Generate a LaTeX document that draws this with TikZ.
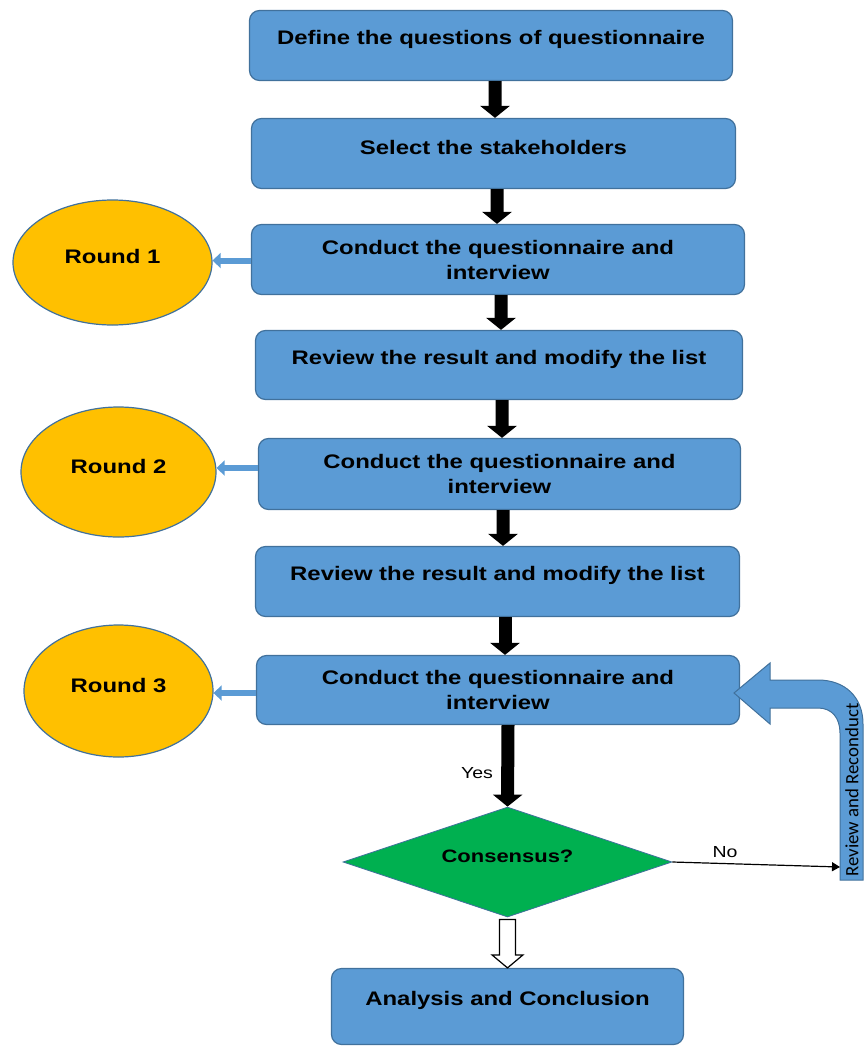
\documentclass[tikz,border=0pt]{standalone}
\usepackage{fontspec}
\setmainfont{Liberation Sans}[FakeStretch=1.22]
\newfontfamily\barfont{Carlito}
\usetikzlibrary{shapes.geometric,arrows.meta,calc}

\definecolor{boxblue}{RGB}{91,155,213}
\definecolor{edgeblue}{RGB}{65,113,156}
\definecolor{roundgold}{RGB}{255,192,0}
\definecolor{decgreen}{RGB}{0,176,80}

% single-line labels sit a little above the middle of their shape
\newcommand\lift[1]{\raisebox{6bp}[\height][\depth]{#1}}

\tikzset{
  stepbox/.style={draw=edgeblue, fill=boxblue, line width=1.2bp, rounded corners=10bp,
    inner sep=0pt, align=center, text=black,
    font=\fontsize{19.6bp}{25bp}\selectfont\bfseries},
  roundnode/.style={ellipse, draw=edgeblue, fill=roundgold, line width=1.2bp, inner sep=0pt,
    font=\fontsize{19.6bp}{25bp}\selectfont\bfseries},
  decision/.style={diamond, aspect=3, draw=edgeblue, fill=decgreen, line width=0.8bp, inner sep=0pt,
    font=\fontsize{18bp}{22bp}\selectfont\bfseries},
  flow/.style={line width=13bp, black, -{Triangle[width=29bp,length=12bp]}},
  toround/.style={line width=6bp, boxblue, -{Triangle[width=15bp,length=8bp]}},
  hollow/.style={draw=black, fill=white, line width=1.2bp, line join=miter},
  thin/.style={line width=1.2bp, black, -{Triangle[width=9bp,length=8bp]}},
  small/.style={font=\fontsize{16bp}{19bp}\selectfont},
}

\begin{document}
\begin{tikzpicture}[x=1bp, y=-1bp]
\useasboundingbox (0,0) rectangle (864,1048);

% main column of steps
\node[stepbox, minimum width=483bp, minimum height=70bp] (b1) at (491,45.5) {\lift{Define the questions of questionnaire}};
\node[stepbox, minimum width=484bp, minimum height=70bp] (b2) at (493.5,153.5) {\lift{Select the stakeholders}};
\node[stepbox, minimum width=493bp, minimum height=70bp] (b3) at (498,259.5) {Conduct the questionnaire and\\interview};
\node[stepbox, minimum width=487bp, minimum height=69bp] (b4) at (499,365) {\lift{Review the result and modify the list}};
\node[stepbox, minimum width=482bp, minimum height=71bp] (b5) at (499.5,474) {Conduct the questionnaire and\\interview};
\node[stepbox, minimum width=484bp, minimum height=70bp] (b6) at (497.5,581.5) {\lift{Review the result and modify the list}};
\node[stepbox, minimum width=483bp, minimum height=69bp] (b7) at (498,690) {Conduct the questionnaire and\\interview};
\node[decision, minimum width=329bp, minimum height=110bp] (dia) at (507.5,862) {\lift{Consensus?}};
\node[stepbox, minimum width=352bp, minimum height=76bp] (b8) at (507.5,1006.5) {\lift{Analysis and Conclusion}};

% rounds
\node[roundnode, minimum width=199bp, minimum height=125bp] (r1) at (112.5,262.5) {\lift{Round 1}};
\node[roundnode, minimum width=195bp, minimum height=130bp] (r2) at (118.5,472) {\lift{Round 2}};
\node[roundnode, minimum width=189bp, minimum height=132bp] (r3) at (118.5,691) {\lift{Round 3}};

% step arrows
\draw[flow] ([xshift=4bp]b1.south) -- ([xshift=1.5bp]b2.north);
\draw[flow] ([xshift=3.5bp]b2.south) -- ([xshift=-1bp]b3.north);
\draw[flow] ([xshift=3bp]b3.south) -- ([xshift=2bp]b4.north);
\draw[flow] ([xshift=3bp]b4.south) -- ([xshift=2.5bp]b5.north);
\draw[flow] ([xshift=3.5bp]b5.south) -- ([xshift=5.5bp]b6.north);
\draw[flow] ([xshift=7.5bp]b6.south) -- ([xshift=7bp]b7.north);
\draw[flow] ([xshift=10bp]b7.south) -- (dia.north);
\node[small] (yes) at (477,773) {Yes};

% links to the rounds
\draw[toround] ([yshift=2bp]r1.east -| b3.west) -- ([yshift=2bp]r1.east);
\draw[toround] ([yshift=4bp]r2.east -| b5.west) -- ([yshift=4bp]r2.east);
\draw[toround] ([yshift=-2bp]r3.east -| b7.west) -- ([yshift=-2bp]r3.east);

% hollow arrow down to the conclusion
\draw[hollow] ($(dia.south)+(-8,2)$) -- ($(b8.north)+(-8,-13)$) -- ($(b8.north)+(-15.5,-13)$)
  -- (b8.north) -- ($(b8.north)+(15.5,-13)$) -- ($(b8.north)+(8,-13)$) -- ($(dia.south)+(8,2)$) -- cycle;

% review and reconduct loop
\draw[draw=edgeblue, fill=boxblue, line width=1bp, line join=miter]
  (734,693) -- (770,663) -- (770,680) -- (818,680)
  .. controls (845,680) and (863,697) .. (863,724) -- (863,880) -- (840,880) -- (840,733)
  .. controls (840,718) and (832,708) .. (818,708) -- (770,708) -- (770,724) -- cycle;
\node[rotate=90, inner sep=0pt, font=\barfont\fontsize{18.8bp}{20bp}\selectfont] (rr) at (852,790) {Review and Reconduct};
\coordinate (noend) at (840,867);
\draw[thin] (dia.east) -- (noend);
\node[small] (no) at (725,852) {No};
\end{tikzpicture}
\end{document}
